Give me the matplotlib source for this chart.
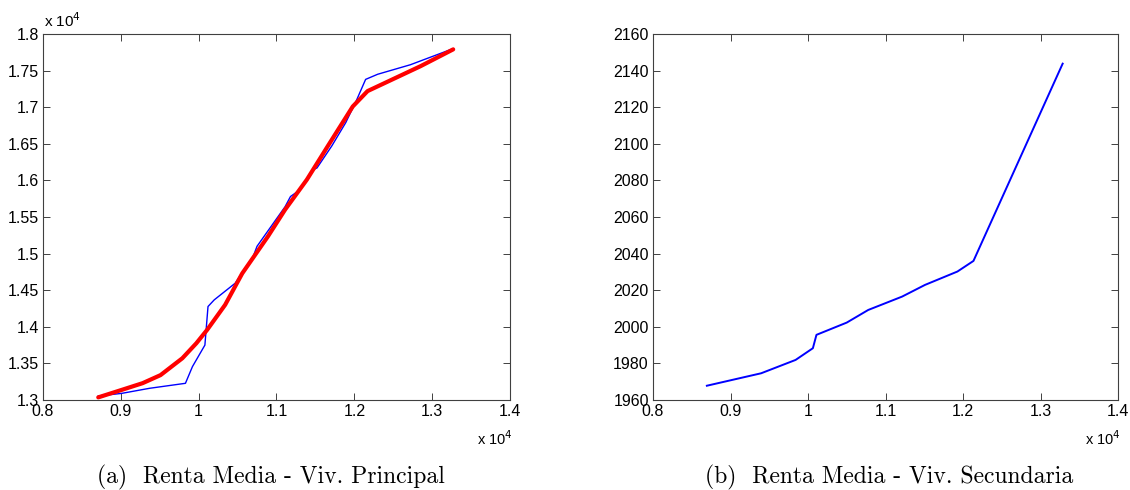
import matplotlib
matplotlib.use("Agg")
import matplotlib.pyplot as plt
from matplotlib.ticker import FuncFormatter, MultipleLocator

# Renta media (x), Viv. principal (blue: datos, red: ajuste suave)
x_blue = [8710, 9008, 9370, 9830, 9920, 10080, 10120, 10200, 10470, 10610,
          10700, 10750, 10930, 11110, 11180, 11300, 11480, 11520, 11710,
          11890, 12030, 12145, 12300, 12720, 13270]
y_blue = [13055, 13090, 13160, 13228, 13456, 13750, 14277, 14368, 14596,
          14820, 14960, 15100, 15370, 15640, 15780, 15870, 16150, 16170,
          16470, 16790, 17100, 17380, 17450, 17580, 17800]

x_red = [8710, 9008, 9280, 9510, 9790, 9970, 10110, 10340, 10560, 10890,
         11110, 11390, 11660, 11980, 12170, 12490, 12850, 13270]
y_red = [13036, 13137, 13230, 13340, 13570, 13775, 13960, 14300, 14730,
         15235, 15600, 16010, 16470, 17010, 17220, 17380, 17560, 17790]

# Viv. secundaria
x_sec = [8695, 9395, 9840, 10063, 10109, 10500, 10777, 11214, 11510,
         11928, 12135, 13286]
y_sec = [1967.8, 1974.6, 1981.9, 1988.3, 1995.6, 2002.3, 2009.2, 2016.5,
         2022.9, 2030.2, 2036.0, 2143.8]

captions = ["(a)  Renta Media - Viv. Principal",
            "(b)  Renta Media - Viv. Secundaria"]

plt.rcParams['font.family'] = ['Liberation Sans', 'DejaVu Sans']

fig = plt.figure(figsize=(11.3, 4.9), dpi=100)
W, H = 1130, 490

def px_axes(l, t, r, b):
    return fig.add_axes([l / W, 1 - b / H, (r - l) / W, (b - t) / H])

def matlab_style(ax):
    ax.tick_params(direction='in', top=True, right=True, length=5,
                   width=0.7, colors='#404040', labelcolor='black',
                   labelsize=11.5, pad=3)
    for s in ax.spines.values():
        s.set_linewidth(0.8)
        s.set_color('#404040')

sc = FuncFormatter(lambda v, p: '%g' % round(v / 1e4, 4))

ax1 = px_axes(43, 34, 510, 400)
ax1.plot(x_blue, y_blue, color='#0000ff', lw=1.0)
ax1.plot(x_red, y_red, color='#ff0000', lw=3.0, solid_capstyle='round')
ax1.set_xlim(8000, 14000)
ax1.set_ylim(13000, 18000)
ax1.xaxis.set_major_locator(MultipleLocator(1000))
ax1.yaxis.set_major_locator(MultipleLocator(500))
ax1.xaxis.set_major_formatter(sc)
ax1.yaxis.set_major_formatter(sc)
matlab_style(ax1)
ax1.text(0.002, 1.01, 'x 10$^4$', transform=ax1.transAxes, fontsize=11,
         ha='left', va='bottom')
ax1.text(1.005, -0.08, 'x 10$^4$', transform=ax1.transAxes, fontsize=10.5,
         ha='right', va='top')

ax2 = px_axes(653, 34, 1118, 400)
ax2.plot(x_sec, y_sec, color='#0000ff', lw=1.4)
ax2.set_xlim(8000, 14000)
ax2.set_ylim(1960, 2160)
ax2.xaxis.set_major_locator(MultipleLocator(1000))
ax2.yaxis.set_major_locator(MultipleLocator(20))
ax2.xaxis.set_major_formatter(sc)
matlab_style(ax2)
ax2.text(1.005, -0.08, 'x 10$^4$', transform=ax2.transAxes, fontsize=10.5,
         ha='right', va='top')

for cx, cap in zip([271, 889], captions):
    fig.text(cx / W, 1 - 477 / H, cap, family='cmr10', fontsize=17,
             ha='center', va='center')

fig.savefig('out.png', dpi=100)
